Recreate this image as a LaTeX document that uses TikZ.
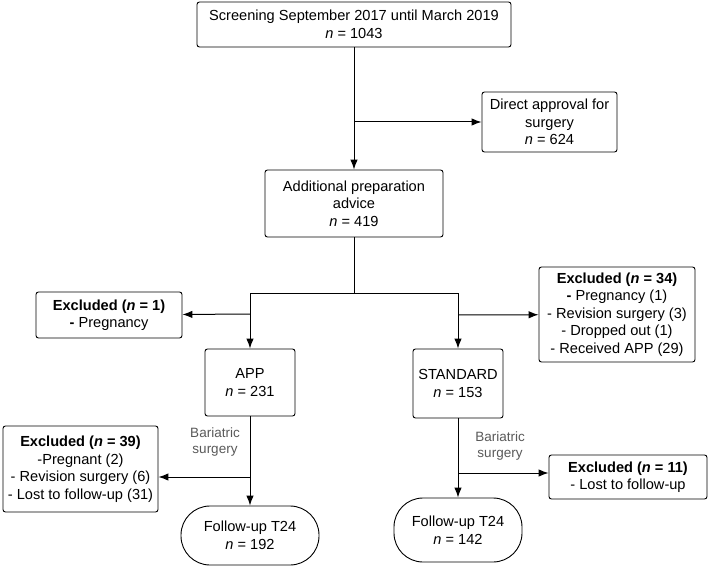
\documentclass[tikz,border=0pt]{standalone}
\usepackage{fontspec}
\setmainfont{Liberation Sans}
\usetikzlibrary{arrows.meta}

\tikzset{
  box/.style={draw, rounded corners=2.5pt, align=center, inner sep=0pt, line width=0.9pt,
    font=\fontsize{14.6}{17.5}\selectfont},
  endbox/.style={box, rounded corners=29pt},
  note/.style={align=center, text=black!65, font=\fontsize{13.5}{16.5}\selectfont},
  flow/.style={line width=1pt},
  arr/.style={flow, -{Latex[length=10pt,width=7.5pt]}}
}

\begin{document}
\begin{tikzpicture}[x=1pt,y=-1pt]
\useasboundingbox (0,0) rectangle (709,567);
% boxes
\node[box, minimum width=314, minimum height=45] (screen) at (354,24.5) {Screening September 2017 until March 2019\\ \textit{n} = 1043};
\node[box, minimum width=135, minimum height=60] (direct) at (549.5,122) {Direct approval for\\ surgery\\ \textit{n} = 624};
\node[box, minimum width=178, minimum height=67] (addl) at (354,203.5) {Additional preparation\\ advice\\ \textit{n} = 419};
\node[box, minimum width=146, minimum height=46] (ex1) at (109,315) {\textbf{Excluded (\textit{n} = 1)}\\ \textbf{-} Pregnancy};
\node[box, minimum width=156, minimum height=95] (ex34) at (617,314.5) {\textbf{Excluded (\textit{n} = 34)}\\ \textbf{-} Pregnancy (1)\\ - Revision surgery (3)\\ - Dropped out (1)\\ - Received APP (29)};
\node[box, minimum width=90, minimum height=67] (app) at (250,382.5) {APP\\ \textit{n} = 231};
\node[box, minimum width=90, minimum height=69] (std) at (458,383.5) {STANDARD\\ \textit{n} = 153};
\node[box, minimum width=155, minimum height=86] (ex39) at (80.5,469) {\textbf{Excluded (\textit{n} = 39)}\\ -Pregnant (2)\\ - Revision surgery (6)\\ - Lost to follow-up (31)};
\node[box, minimum width=158, minimum height=44] (ex11) at (628,477) {\textbf{Excluded (\textit{n} = 11)}\\ - Lost to follow-up};
\node[endbox, minimum width=138, minimum height=59] (fu1) at (250,535.5) {Follow-up T24\\ \textit{n} = 192};
\node[endbox, minimum width=128, minimum height=64] (fu2) at (458,530) {Follow-up T24\\ \textit{n} = 142};
\node[note] (bar1) at (215,442) {Bariatric\\ surgery};
\node[note] (bar2) at (500,446) {Bariatric\\ surgery};
% junctions
\coordinate (j1) at (354,122);
\coordinate (split) at (354,293);
\coordinate (sl) at (250,293);
\coordinate (sr) at (458,293);
\coordinate (jl) at (250,314);
\coordinate (jr) at (458,315);
\coordinate (kl) at (250,477);
\coordinate (kr) at (458,473);
% connectors
\draw[arr] (screen) -- (addl);
\draw[arr] (j1) -- (direct);
\draw[flow] (addl) -- (split);
\draw[flow] (sl) -- (sr);
\draw[arr] (sl) -- (app);
\draw[arr] (sr) -- (std);
\draw[arr] (jl) -- (ex1);
\draw[arr] (jr) -- (ex34);
\draw[arr] (app) -- (fu1);
\draw[arr] (kl) -- (kl -| ex39.east);
\draw[arr] (std) -- (fu2);
\draw[arr] (kr) -- (kr -| ex11.west);
\end{tikzpicture}
\end{document}
